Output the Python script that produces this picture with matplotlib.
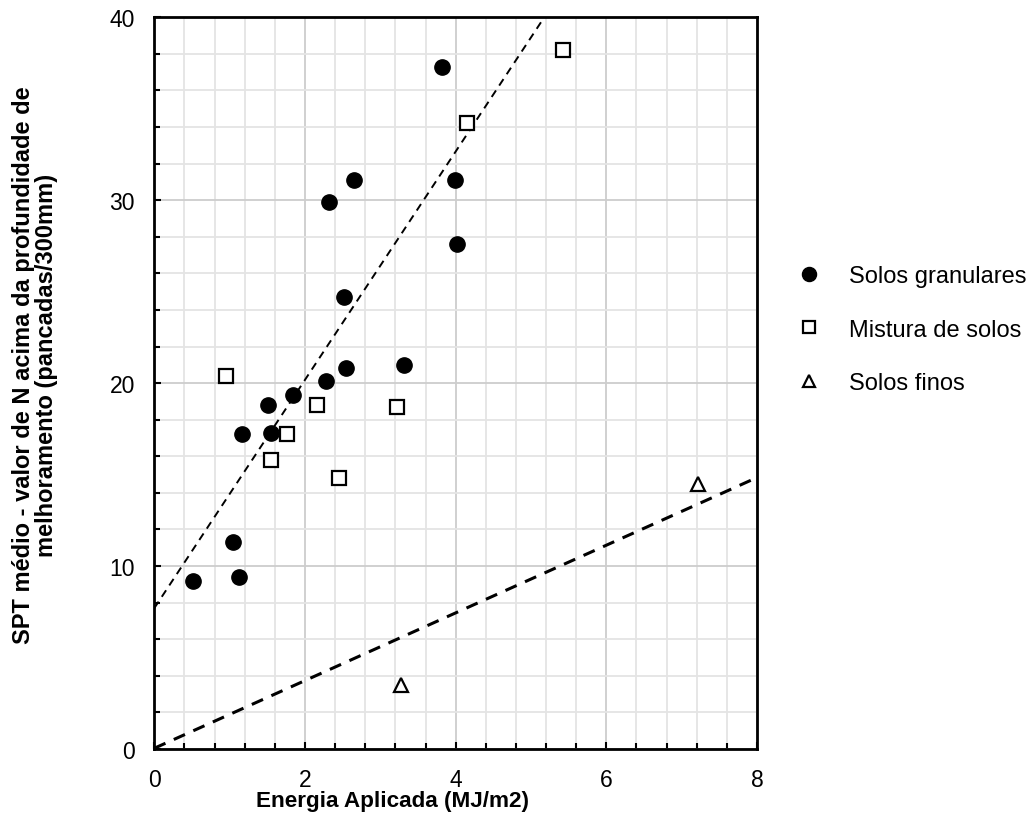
import matplotlib
matplotlib.use("Agg")
import matplotlib.pyplot as plt
from matplotlib.ticker import MultipleLocator
import numpy as np

plt.rcParams["font.family"] = ["Liberation Sans", "DejaVu Sans"]

# ---------------------------------------------------------
# data
# ---------------------------------------------------------
granular_x = [0.52, 1.05, 1.13, 1.17, 1.51, 1.55, 1.84, 2.28, 2.32, 2.52,
              2.55, 2.65, 3.32, 3.82, 3.99, 4.02]
granular_y = [9.2, 11.3, 9.4, 17.2, 18.8, 17.3, 19.35, 20.1, 29.9, 24.7,
              20.8, 31.1, 21.0, 37.3, 31.1, 27.6]

mistura_x = [0.95, 1.55, 1.76, 2.16, 2.45, 3.22, 4.15, 5.42]
mistura_y = [20.4, 15.8, 17.2, 18.8, 14.8, 18.7, 34.2, 38.2]

finos_x = [3.28, 7.21]
finos_y = [3.5, 14.5]

# trend lines (slope, intercept)
trend_steep = (6.24, 7.7)
trend_finos = (1.85, 0.04)

labels = ["Solos granulares", "Mistura de solos", "Solos finos"]

# ---------------------------------------------------------
# figure
# ---------------------------------------------------------
fig = plt.figure(figsize=(10.3, 8.29), dpi=100)
ax = fig.add_axes([0.1498, 0.0953, 0.5852, 0.8827])

ax.set_xlim(0, 8)
ax.set_ylim(0, 40)
ax.xaxis.set_major_locator(MultipleLocator(2))
ax.xaxis.set_minor_locator(MultipleLocator(0.4))
ax.yaxis.set_major_locator(MultipleLocator(10))
ax.yaxis.set_minor_locator(MultipleLocator(2))

ax.grid(which="minor", color="#e4e4e4", lw=1.3)
ax.grid(which="major", color="#cdcdcd", lw=1.3)
ax.set_axisbelow(True)

for s in ax.spines.values():
    s.set_linewidth(2)
    s.set_color("black")

ax.tick_params(which="both", direction="in", top=False, right=False,
               width=1.5, labelsize=16.5, color="black")
ax.tick_params(which="major", length=5)
ax.tick_params(which="minor", length=4)
ax.tick_params(axis="y", pad=14)
ax.tick_params(axis="x", pad=13.5)

# trend lines
xs = np.linspace(0, 8, 200)
a, b = trend_steep
ax.plot(xs, a * xs + b, color="black", lw=1.4, ls=(0, (4, 3)), zorder=2)
a, b = trend_finos
ax.plot(xs, a * xs + b, color="black", lw=2.2, ls=(0, (4, 3)), zorder=2)

ax.plot(granular_x, granular_y, "o", ms=11, color="black", ls="none",
        label=labels[0], zorder=3)
ax.plot(mistura_x, mistura_y, "s", ms=10, mfc="white", mec="black", mew=1.6,
        ls="none", label=labels[1], zorder=3)
ax.plot(finos_x, finos_y, "^", ms=10, mfc="white", mec="black", mew=1.6,
        ls="none", label=labels[2], zorder=3)

ax.set_xlabel("Energia Aplicada (MJ/m2)", fontsize=16.2, fontweight="bold")
ax.xaxis.set_label_coords(0.396, -0.056)
ax.set_ylabel("SPT médio - valor de N acima da profundidade de\n"
              "melhoramento (pancadas/300mm)", fontsize=17,
              fontweight="bold", linespacing=1.0)
ax.yaxis.set_label_coords(-0.16, 0.5255)

ax.legend(loc="upper left", bbox_to_anchor=(1.028, 0.69), frameon=False,
          fontsize=17, markerscale=0.92, labelspacing=1.33,
          handletextpad=1.1, handlelength=1.2)

fig.savefig("out.png", dpi=100)
